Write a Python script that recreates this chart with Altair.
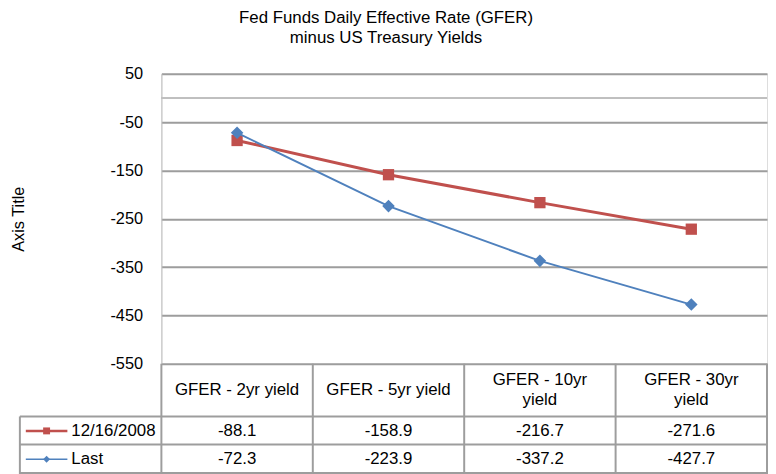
import altair as alt
import pandas as pd

# ---- data -------------------------------------------------------------
categories = ["GFER - 2yr yield", "GFER - 5yr yield", "GFER - 10yr yield", "GFER - 30yr yield"]
header_labels = ["GFER - 2yr yield", "GFER - 5yr yield", "GFER - 10yr\nyield", "GFER - 30yr\nyield"]
series_names = ["12/16/2008", "Last"]
values_dec2008 = [-88.1, -158.9, -216.7, -271.6]
values_last = [-72.3, -223.9, -337.2, -427.7]
y_ticks = [50, -50, -150, -250, -350, -450, -550]
y_domain = [-550, 50]
title_lines = ["Fed Funds Daily Effective Rate (GFER)", "minus US Treasury Yields"]

# ---- styling ----------------------------------------------------------
FONT = "Liberation Sans"
RED = "#C0504D"
BLUE = "#4F81BD"
GRID = "#9d9d9d"
LIGHT = "#c0c0c0"
W, H = 612, 293
COL = W / len(categories)
MINUS_FIX = "replace({}, '\u2212', '-')"

rows = []
for s, vals in zip(series_names, [values_dec2008, values_last]):
    for c, v in zip(categories, vals):
        rows.append({"series": s, "category": c, "value": v})
df = pd.DataFrame(rows)

x_enc = alt.X("category:N", sort=categories,
              scale=alt.Scale(type="point", domain=categories, padding=0.5),
              axis=None)
y_axis = alt.Axis(values=y_ticks, title="Axis Title", grid=True, gridColor=GRID,
                  gridWidth=2, ticks=False, tickSize=0, domain=True,
                  domainColor=LIGHT, domainWidth=1, labelFont=FONT, labelFontSize=16.5,
                  labelColor="#000", labelPadding=19,
                  labelExpr=MINUS_FIX.format("datum.label"),
                  titleFont=FONT, titleFontSize=16.5,
                  titleFontWeight="normal", titleColor="#000", titleX=-144, titleY=H / 2,
                  titleAngle=-90, titleBaseline="middle", titleAlign="center")
y_enc = alt.Y("value:Q", scale=alt.Scale(domain=y_domain, nice=False, zero=False), axis=y_axis)

base = alt.Chart(df)

zero_rule = base.mark_rule(color=LIGHT, strokeWidth=1).encode(y=alt.datum(0))


def series_layers(name, color, shape, size, sw):
    d = base.transform_filter(alt.datum.series == name)
    line = d.mark_line(color=color, strokeWidth=sw).encode(x=x_enc, y=y_enc)
    pts = d.mark_point(shape=shape, filled=True, size=size, color=color,
                       opacity=1).encode(x=x_enc, y=y_enc)
    return [line, pts]


# ---- data table below the plot --------------------------------------
header_top = H
header_bot = 346.3
row_bounds = [346.3, 374.7, 403.5]
row_centers = [360.9, 389.5]
legend_left = -143
TXT = 17
LINE_H = 20


def rule(x1, x2, y1, y2, color=GRID, w=2):
    return alt.Chart(pd.DataFrame({"k": [0]})).mark_rule(color=color, strokeWidth=w).encode(
        x=alt.value(x1), x2=alt.value(x2), y=alt.value(y1), y2=alt.value(y2))


grid_rules = [
    rule(legend_left, W, row_bounds[0], row_bounds[0]),
    rule(legend_left, W, row_bounds[1], row_bounds[1]),
    rule(legend_left, W, row_bounds[2], row_bounds[2]),
    rule(legend_left, legend_left, row_bounds[0], row_bounds[2] + 5),
]
for i in range(len(categories) + 1):
    grid_rules.append(rule(i * COL, i * COL, header_top, row_bounds[2] + 5))

header_df = pd.DataFrame({"category": categories, "label": header_labels})
header_mid = (header_top + header_bot) / 2
header_single = alt.Chart(header_df).transform_filter(
    "indexof(datum.label, '\\n') < 0").mark_text(
    font=FONT, fontSize=TXT, baseline="middle", align="center", color="#000").encode(
    x=x_enc, y=alt.value(header_mid), text="label:N")
header_double = alt.Chart(header_df).transform_filter(
    "indexof(datum.label, '\\n') >= 0").mark_text(
    font=FONT, fontSize=TXT, lineBreak="\n", lineHeight=LINE_H, baseline="middle",
    align="center", color="#000").encode(
    x=x_enc, y=alt.value(header_mid - LINE_H / 2), text="label:N")

table_layers = []
legend_layers = []
styles = [(RED, "square", 49, 2.5), (BLUE, "diamond", 49, 1.5)]
for (name, (color, shape, msize, lw)), yc in zip(zip(series_names, styles), row_centers):
    vals = base.transform_filter(alt.datum.series == name).transform_calculate(
        vtxt=MINUS_FIX.format("format(datum.value, '.1f')")
    ).mark_text(
        font=FONT, fontSize=TXT, baseline="middle", align="center", color="#000").encode(
        x=x_enc, y=alt.value(yc), text="vtxt:N")
    table_layers.append(vals)
    one = alt.Chart(pd.DataFrame({"series": [name]}))
    legend_layers.append(one.mark_rule(color=color, strokeWidth=lw).encode(
        x=alt.value(-137), x2=alt.value(-95), y=alt.value(yc)))
    legend_layers.append(one.mark_point(shape=shape, filled=True, size=msize, color=color,
                                        opacity=1).encode(x=alt.value(-116), y=alt.value(yc)))
    legend_layers.append(one.mark_text(font=FONT, fontSize=TXT, baseline="middle",
                                       align="left", color="#000").encode(
        x=alt.value(-91), y=alt.value(yc), text="series:N"))

layers = ([zero_rule] + grid_rules +
          series_layers(series_names[0], RED, "square", 130, 3) +
          series_layers(series_names[1], BLUE, "diamond", 160, 2) +
          [header_single, header_double] + table_layers + legend_layers)

chart = alt.layer(*layers).properties(
    width=W, height=H,
    title=alt.TitleParams(text=title_lines, font=FONT, fontSize=17, fontWeight="normal",
                          color="#000", anchor="middle", frame="group", dx=-79,
                          offset=19, lineHeight=20),
    autosize=alt.AutoSizeParams(type="none"),
    padding={"left": 155, "top": 64, "right": 1, "bottom": 109},
).configure_view(stroke=None).configure(background="white")

chart.save("out.html", embed_options={"renderer": "svg", "actions": False})
